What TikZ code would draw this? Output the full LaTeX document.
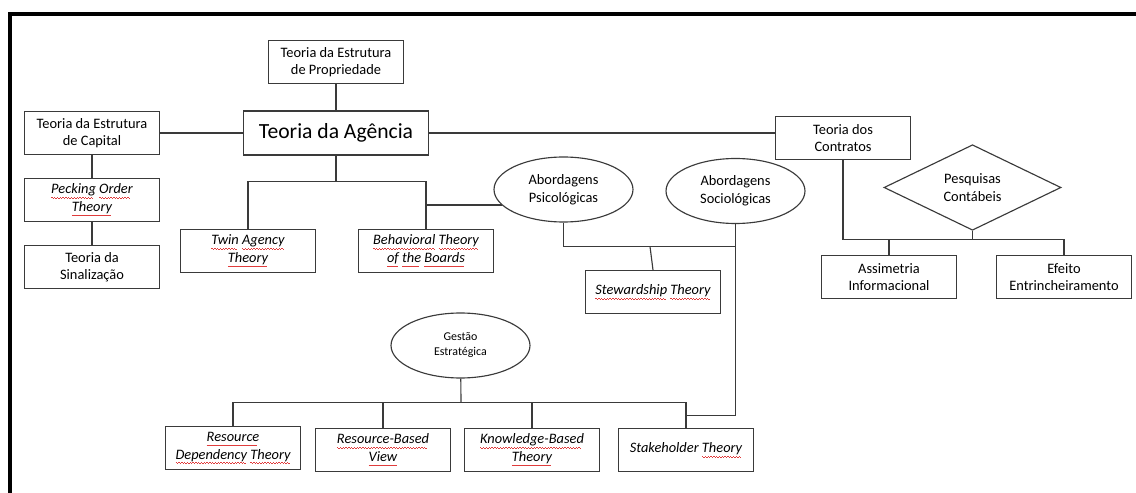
\documentclass[tikz,border=0pt]{standalone}
\usepackage{fontspec}
\setmainfont{Carlito}
\usepackage{xcolor}
\usepackage{tikz}
\usetikzlibrary{shapes.geometric}
\definecolor{edge}{HTML}{3A3A3A}
\definecolor{wave}{HTML}{E03C3C}
\newcommand{\spell}[1]{\setbox0\hbox{#1}\rlap{\textcolor{wave}{\leaders\hbox to 1.6pt{%
  \vrule width 0.8pt height -1.8pt depth 2.2pt\vrule width 0.8pt height -2.2pt depth 2.6pt}%
  \hskip\wd0}}\box0\relax}
\tikzset{
  box/.style={draw=edge,line width=0.65pt,minimum width=2.7cm,minimum height=0.86cm,
    inner sep=0pt,align=center,font=\fontsize{8.2}{10}\selectfont},
  oval/.style={ellipse,draw=edge,line width=0.65pt,minimum width=2.78cm,minimum height=1.3cm,
    inner sep=0pt,align=center,font=\fontsize{8.2}{10}\selectfont},
  link/.style={draw=edge,line width=0.65pt},
}

\begin{document}
\begin{tikzpicture}[x=0.02cm,y=-0.02cm]
  \useasboundingbox (0,0) rectangle (1136,493);
  \draw[line width=2.3pt] (10,493) -- (10,14) -- (1136,14);

  \node[box] (prop) at (336,62) {Teoria da Estrutura\\de Propriedade};
  \node[box,minimum width=3.7cm,minimum height=0.88cm,font=\fontsize{12.3}{14}\selectfont] (agencia) at (336,133) {Teoria da Agência};
  \node[box] (capital) at (92,133) {Teoria da Estrutura\\de Capital};
  \node[box] (pecking) at (92,200) {\itshape\spell{Pecking} \spell{Order}\\\itshape\spell{Theory}};
  \node[box] (sinal) at (92,267) {Teoria da\\Sinalização};
  \node[box] (twin) at (248,251) {\itshape\spell{Twin} \spell{Agency}\\\itshape\spell{Theory}};
  \node[box] (behav) at (426,251) {\itshape\spell{Behavioral} \spell{Theory}\\\itshape\spell{of} \spell{the} \spell{Boards}};
  \node[oval] (psic) at (563.5,189.5) {Abordagens\\Psicológicas};
  \node[oval] (soc) at (735.5,191) {Abordagens\\Sociológicas};
  \node[box] (contratos) at (843,138) {Teoria dos\\Contratos};
  \node[diamond,draw=edge,line width=0.65pt,minimum width=3.54cm,minimum height=1.38cm,inner sep=0pt,
    align=center,font=\fontsize{8.2}{10}\selectfont] (pesq) at (972.5,187.5) {Pesquisas\\Contábeis};
  \node[box] (steward) at (653,292) {\itshape\spell{Stewardship} \spell{Theory}};
  \node[box] (assim) at (889,277) {Assimetria\\Informacional};
  \node[box] (efeito) at (1064,277) {Efeito\\Entrincheiramento};
  \node[oval,font=\fontsize{6.8}{8.5}\selectfont] (gestao) at (460.5,345.5) {Gestão\\Estratégica};
  \node[box] (resdep) at (233,448) {\itshape\spell{Resource}\\\itshape\spell{Dependency} \spell{Theory}};
  \node[box] (rbv) at (383,450) {\itshape\spell{Resource-Based}\\\itshape\spell{View}};
  \node[box] (kbv) at (532,450) {\itshape\spell{Knowledge-Based}\\\itshape\spell{Theory}};
  \node[box] (stake) at (686,450) {\itshape Stakeholder \spell{Theory}};

  \coordinate (abar) at (336,181.5);
  \coordinate (sbar) at (650,246.5);
  \coordinate (cbar) at (1064,239.5);
  \coordinate (gbar) at (461,402.5);

  \draw[link] (capital) -- (agencia);
  \draw[link] (prop) -- (agencia);
  \draw[link] (capital) -- (pecking);
  \draw[link] (pecking) -- (sinal);
  \draw[link] (agencia.east) -- (agencia.east -| contratos.west);
  \draw[link] (agencia) -- (abar);
  \draw[link] (twin.north) |- (abar) -| (behav.north);
  \draw[link] (psic.194) -- (psic.194 -| behav.north);
  \draw[link] (psic.south) |- (soc.south |- sbar);
  \draw[link] (sbar) -- (steward.north);
  \draw[link] (soc.south) |- (stake.north |- 0,415.5);
  \draw[link] (contratos.south) |- (cbar) -- (efeito.north);
  \draw[link] (pesq.south) -- (pesq.south |- cbar);
  \draw[link] (assim.north) -- (assim.north |- cbar);
  \draw[link] (gestao) -- (gbar);
  \draw[link] (resdep.north) |- (gbar) -| (stake.north);
  \draw[link] (rbv.north) -- (rbv.north |- gbar);
  \draw[link] (kbv.north) -- (kbv.north |- gbar);
\end{tikzpicture}
\end{document}
